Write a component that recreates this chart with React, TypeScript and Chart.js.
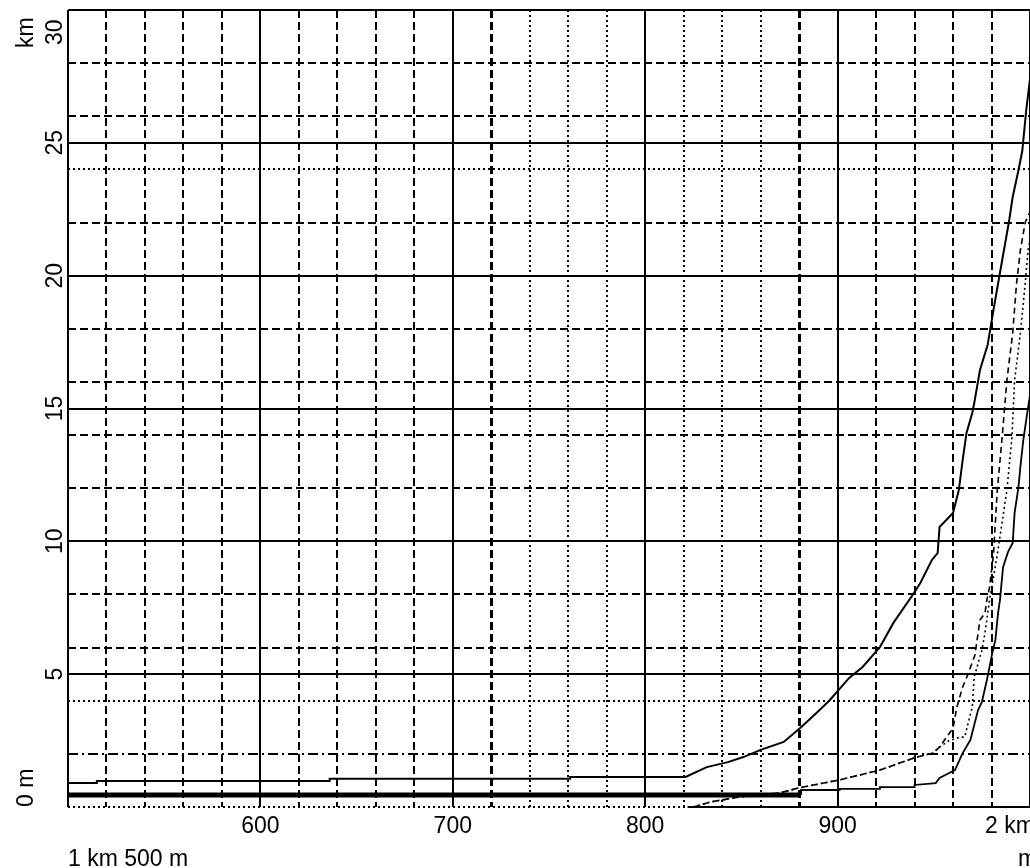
import { useEffect, useRef } from 'react';
import { Chart, registerables } from 'chart.js';

Chart.register(...registerables);

// ---- axis ranges & grid ----
const X_MIN = 1500;
const X_MAX = 2000;
const Y_MIN = 0;
const Y_MAX = 30;

const xGridValues = [
  1500, 1520, 1540, 1560, 1580, 1600, 1620, 1640, 1660, 1680, 1700,
  1720, 1740, 1760, 1780, 1800, 1820, 1840, 1860, 1880, 1900,
  1920, 1940, 1960, 1980, 2000,
];
const yGridValues = [0, 2, 4, 5, 6, 8, 10, 12, 14, 15, 16, 18, 20, 22, 24, 25, 26, 28, 30];

// ---- tick labels ----
const xLabelValues = [1600, 1700, 1800, 1900];
const xLabelTexts = ['600', '700', '800', '900'];
const xEndLabel = '2 km';
const xStartLabel = '1 km 500 m';
const xUnitLabel = 'm';
const yLabelValues = [5, 10, 15, 20, 25];
const yLabelTexts = ['5', '10', '15', '20', '25'];
const yTopLabel = '30';
const yBottomUnit = '0 m';
const yTopUnit = 'km';

// ---- series (x in m, y in km) ----
const seriesA_x = [1500, 1515, 1515, 1636, 1636, 1761, 1761, 1821, 1832, 1843, 1851, 1860, 1872, 1881, 1889, 1896, 1906, 1913, 1922, 1929, 1939, 1943, 1949, 1952, 1953, 1960, 1963, 1965, 1967, 1970, 1971, 1974, 1978, 1981, 1984, 1989, 1991, 1994, 1996, 1998, 2000];
const seriesA_y = [0.9, 0.9, 0.98, 0.98, 1.06, 1.06, 1.13, 1.13, 1.5, 1.69, 1.88, 2.15, 2.45, 3.0, 3.54, 4.03, 4.86, 5.27, 6.02, 6.93, 7.98, 8.43, 9.3, 9.56, 10.54, 11.07, 11.93, 13.06, 14.08, 14.83, 15.2, 16.45, 17.4, 18.7, 19.95, 22.0, 22.96, 23.97, 24.7, 26.2, 27.4];

const seriesB1_x = [1500, 1881];
const seriesB1_y = [0.45, 0.45];

const seriesB_x = [1881, 1881, 1901, 1901, 1922, 1922, 1940, 1940, 1951, 1953, 1957, 1961, 1965, 1969, 1973, 1975, 1977.6, 1980, 1982, 1983.4, 1984.4, 1986, 1988.6, 1991, 1992, 1994, 1995, 1996.5, 1998.5, 2000];
const seriesB_y = [0.45, 0.64, 0.64, 0.68, 0.68, 0.75, 0.75, 0.83, 0.9, 1.09, 1.24, 1.39, 2.03, 2.52, 3.65, 3.95, 4.78, 5.65, 6.29, 7.3, 7.8, 9.03, 9.6, 9.94, 11.07, 12.04, 12.8, 13.8, 14.8, 15.5];

const seriesC_x = [1825, 1834, 1849, 1870, 1880, 1901, 1922, 1941, 1949.6, 1953, 1960, 1962, 1965, 1967, 1971.4, 1974, 1976.6, 1977.6, 1979, 1981, 1983, 1985.5, 1988, 1991, 1993, 1995, 1997.5, 2000];
const seriesC_y = [0, 0.19, 0.38, 0.53, 0.72, 1.02, 1.39, 1.88, 2.03, 2.26, 2.97, 3.76, 4.52, 4.86, 5.72, 7.04, 7.3, 7.8, 8.28, 9.5, 11.93, 13.9, 16.07, 17.84, 19.7, 20.96, 22.0, 22.4];

const seriesD_x = [1825, 1834, 1849, 1870, 1880, 1901, 1922, 1941, 1949.6, 1953, 1958, 1963.6, 1966, 1970, 1971, 1975, 1976.6, 1979, 1983, 1988, 1990.6, 1992, 1995, 1997.5, 1999, 2000];
const seriesD_y = [0, 0.19, 0.38, 0.53, 0.72, 1.02, 1.39, 1.88, 2.03, 2.26, 2.5, 2.63, 2.63, 3.76, 4.9, 5.9, 6.55, 7.8, 9.5, 11.93, 13.9, 16.07, 17.84, 19.7, 20.96, 21.3];

const seriesE_x = [1822, 2000];
const seriesE_y = [0, 0];

const toPoints = (xs: number[], ys: number[]) => xs.map((x, i) => ({ x, y: ys[i] }));

// ---- grid styles ----
const SOLID: number[] = [];
const DASH = [8, 4];
const DOT = [2, 3];
const DASHDOT = [10, 4, 2, 4];

function xDash(v: number): number[] {
  if (v % 100 === 0) return SOLID;
  if ((v > 1720 && v < 1800) || (v > 1800 && v < 1880)) return DOT;
  return DASH;
}
function yDash(v: number): number[] {
  if (v === 0) return DOT;
  if (v % 5 === 0) return SOLID;
  if (v === 4 || v === 24) return DOT;
  if (v === 2) return DASHDOT;
  return DASH;
}

const FONT = '23px "Liberation Sans", Arial, sans-serif';

const textPlugin = {
  id: 'axisText',
  beforeDraw(chart: any) {
    const { ctx, width, height } = chart;
    ctx.save();
    ctx.fillStyle = '#fff';
    ctx.fillRect(0, 0, width, height);
    ctx.restore();
  },
  afterDraw(chart: any) {
    const { ctx, chartArea } = chart;
    const xs = chart.scales.x;
    const ys = chart.scales.y;
    ctx.save();
    ctx.fillStyle = '#000';
    ctx.font = FONT;
    ctx.textBaseline = 'alphabetic';
    ctx.textAlign = 'center';
    const xBase = chartArea.bottom + 26;
    xLabelValues.forEach((v, i) => {
      ctx.fillText(xLabelTexts[i], xs.getPixelForValue(v), xBase);
    });
    ctx.textAlign = 'left';
    ctx.fillText(xEndLabel, xs.getPixelForValue(X_MAX) - 45, xBase);
    ctx.fillText(xStartLabel, chartArea.left, chartArea.bottom + 59);
    ctx.fillText(xUnitLabel, xs.getPixelForValue(X_MAX) - 12, chartArea.bottom + 59);

    const drawRot = (text: string, x: number, y: number, align: CanvasTextAlign) => {
      ctx.save();
      ctx.translate(x, y);
      ctx.rotate(-Math.PI / 2);
      ctx.textAlign = align;
      ctx.fillText(text, 0, 0);
      ctx.restore();
    };
    const numX = chartArea.left - 6;
    yLabelValues.forEach((v, i) => drawRot(yLabelTexts[i], numX, ys.getPixelForValue(v), 'center'));
    drawRot(yTopLabel, numX, chartArea.top + 35, 'left');
    drawRot(yBottomUnit, chartArea.left - 35, chartArea.bottom, 'left');
    drawRot(yTopUnit, chartArea.left - 35, chartArea.top + 38, 'left');
    ctx.restore();
  },
};

export default function App() {
  const ref = useRef<HTMLCanvasElement | null>(null);

  useEffect(() => {
    document.body.style.margin = '0';
    const canvas = ref.current;
    if (!canvas) return;
    const lineBase = {
      borderColor: '#000',
      pointRadius: 0,
      tension: 0,
      fill: false,
      clip: false as any,
    };
    const chart = new Chart(canvas, {
      type: 'line',
      data: {
        datasets: [
          { ...lineBase, label: 'A', data: toPoints(seriesA_x, seriesA_y), borderWidth: 2 },
          { ...lineBase, label: 'B1', data: toPoints(seriesB1_x, seriesB1_y), borderWidth: 5 },
          { ...lineBase, label: 'B', data: toPoints(seriesB_x, seriesB_y), borderWidth: 1.8 },
          { ...lineBase, label: 'C', data: toPoints(seriesC_x, seriesC_y), borderWidth: 1.6, borderDash: [6, 4] },
          { ...lineBase, label: 'D', data: toPoints(seriesD_x, seriesD_y), borderWidth: 1.6, borderDash: [2, 3] },
          { ...lineBase, label: 'E', data: toPoints(seriesE_x, seriesE_y), borderWidth: 2 },
        ],
      },
      options: {
        animation: false,
        responsive: false,
        maintainAspectRatio: false,
        devicePixelRatio: 1,
        layout: { padding: { left: 68, top: 10, right: 0, bottom: 61 } },
        plugins: { legend: { display: false }, tooltip: { enabled: false } },
        scales: {
          x: {
            type: 'linear',
            min: X_MIN,
            max: X_MAX,
            afterBuildTicks: (s: any) => {
              s.ticks = xGridValues.map((v) => ({ value: v }));
            },
            ticks: { display: false },
            grid: {
              color: '#000',
              drawTicks: false,
              lineWidth: (c: any) => (c.tick && (c.tick.value === 1720 || c.tick.value === 1880) ? 3 : 2),
            },
            border: {
              display: false,
              dash: (c: any) => (c.tick ? xDash(c.tick.value) : []),
            },
          },
          y: {
            type: 'linear',
            min: Y_MIN,
            max: Y_MAX,
            afterBuildTicks: (s: any) => {
              s.ticks = yGridValues.map((v) => ({ value: v }));
            },
            ticks: { display: false },
            grid: { color: '#000', drawTicks: false, lineWidth: 2 },
            border: {
              display: false,
              dash: (c: any) => (c.tick ? yDash(c.tick.value) : []),
            },
          },
        },
      },
      plugins: [textPlugin],
    } as any);
    return () => chart.destroy();
  }, []);

  return <canvas ref={ref} width={1030} height={868} style={{ display: 'block' }} />;
}
